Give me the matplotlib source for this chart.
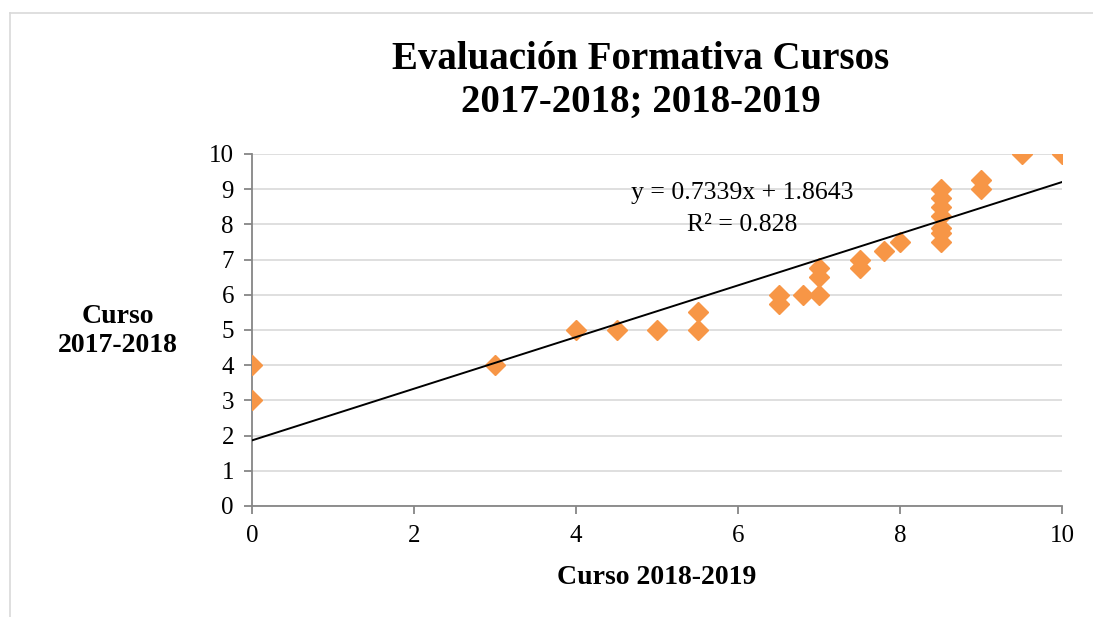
import matplotlib
matplotlib.use("Agg")
import matplotlib.pyplot as plt
import numpy as np

# data
curso_2018_2019 = [0, 0, 3, 4, 4.5, 5, 5.5, 5.5, 6.5, 6.5, 6.8, 7, 7, 7,
                   7.5, 7.5, 7.8, 8, 8.5, 8.5, 8.5, 8.5, 8.5, 8.5, 8.5,
                   9, 9, 9.5, 10]
curso_2017_2018 = [3, 4, 4, 5, 5, 5, 5, 5.5, 5.75, 6, 6, 6, 6.5, 6.75,
                   6.75, 7, 7.25, 7.5, 7.5, 7.75, 7.9, 8.25, 8.5, 8.75, 9,
                   9, 9.25, 10, 10]
slope = 0.7339
intercept = 1.8643
r2 = 0.828

plt.rcParams['font.family'] = ['Liberation Serif', 'DejaVu Serif']

fig = plt.figure(figsize=(10.93, 6.17), dpi=100)
ax = fig.add_axes([252/1093, 1 - 506/617, 810/1093, 352/617])

ax.plot(curso_2018_2019, curso_2017_2018, linestyle='none', marker='D',
        ms=10.5, color='#F79646', zorder=3)
xs = np.array([0, 10])
ax.plot(xs, slope*xs + intercept, color='black', lw=1.4, zorder=4)

ax.set_xlim(0, 10)
ax.set_ylim(0, 10)
ax.set_xticks(np.arange(0, 11, 2))
ax.set_yticks(np.arange(0, 11, 1))
ax.yaxis.grid(True, color='#D9D9D9', lw=1.2)
ax.set_axisbelow(True)
for s in ['top', 'right']:
    ax.spines[s].set_visible(False)
for s in ['left', 'bottom']:
    ax.spines[s].set_color('#868686')
    ax.spines[s].set_linewidth(1.3)
ax.tick_params(colors='#868686', labelcolor='black', labelsize=18, length=6,
               width=1.3)
ax.tick_params(axis='y', pad=7)
ax.tick_params(axis='x', pad=8)

fig.text(641/1093, 1 - 81/617, 'Evaluación Formativa Cursos\n2017-2018; 2018-2019',
         ha='center', va='center', fontsize=28, fontweight='bold', linespacing=1.2)
fig.text(657/1093, 1 - 578/617, 'Curso 2018-2019', ha='center', va='center',
         fontsize=20, fontweight='bold')
fig.text(118/1093, 1 - 331/617, 'Curso\n2017-2018', ha='center', va='center',
         fontsize=20, fontweight='bold', linespacing=1.25)
fig.text(742/1093, 1 - 193/617, 'y = %.4fx + %.4f' % (slope, intercept),
         ha='center', va='center', fontsize=18.5)
fig.text(742/1093, 1 - 225/617, 'R² = %.3f' % r2,
         ha='center', va='center', fontsize=18.5)

# light frame around the chart area
fig.add_artist(plt.Line2D([10/1093, 10/1093], [0, 1 - 13/617], color='#D9D9D9', lw=1.2))
fig.add_artist(plt.Line2D([10/1093, 1], [1 - 13/617, 1 - 13/617], color='#D9D9D9', lw=1.2))

fig.savefig('out.png', dpi=100)
